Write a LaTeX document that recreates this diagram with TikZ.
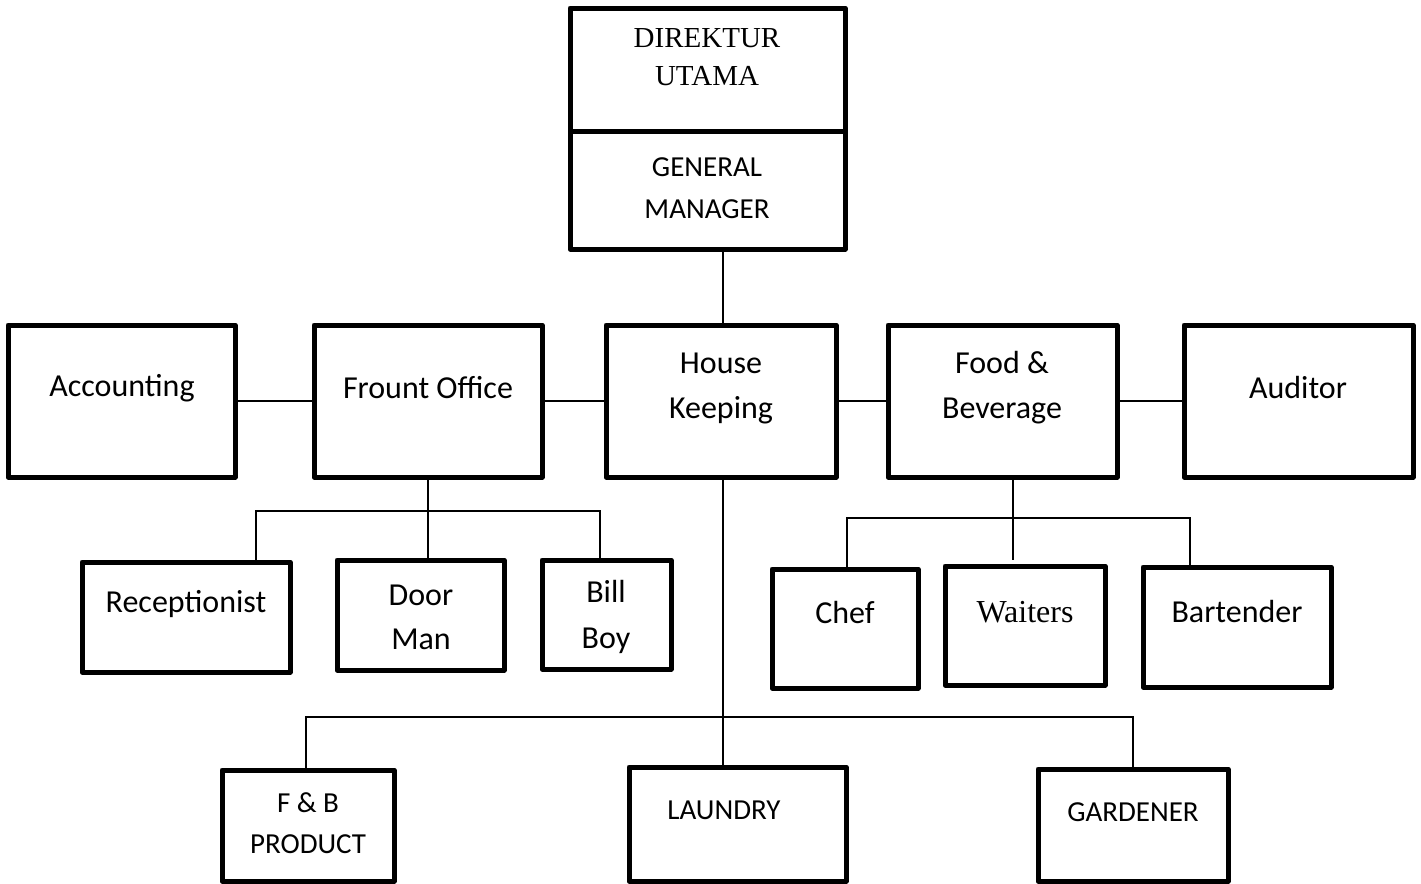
\documentclass[tikz,border=0pt]{standalone}
\usepackage{fontspec}
\setmainfont{Carlito}
\newfontfamily\tnr{Liberation Serif}
\usetikzlibrary{fit}
\begin{document}
\begin{tikzpicture}[x=0.5pt,y=-0.5pt,
  box/.style={draw,line width=2.5pt,line join=round,inner sep=0pt},
  conn/.style={line width=1pt},
  lbl/.style={inner sep=0pt,align=center,font=\fontsize{16}{22.5}\selectfont},
  lbls/.style={inner sep=0pt,align=center,font=\fontsize{14.5}{21}\selectfont}]
\fill[white] (0,0) rectangle (1421,884);
\clip (0,0) rectangle (1421,884);
% top
\node[box,fit={(570,8)(845,131)}] (dir) {};
\node[box,fit={(570,131)(845,249)}] (gm) {};
% level 2
\node[box,fit={(8,325)(235,477)}] (acc) {};
\node[box,fit={(314,325)(542,477)}] (fo) {};
\node[box,fit={(606,325)(836,477)}] (hk) {};
\node[box,fit={(888,325)(1117,477)}] (fb) {};
\node[box,fit={(1184,325)(1413,477)}] (aud) {};
% front office children
\node[box,fit={(82,562)(290,672)}] (rec) {};
\node[box,fit={(337,560)(504,670)}] (dm) {};
\node[box,fit={(542,560)(671,669)}] (bb) {};
% f&b children
\node[box,fit={(772,569)(918,688)}] (chef) {};
\node[box,fit={(945,566)(1105,685)}] (wait) {};
\node[box,fit={(1143,567)(1331,687)}] (bart) {};
% housekeeping children
\node[box,fit={(222,770)(394,881)}] (fbp) {};
\node[box,fit={(629,767)(846,881)}] (lau) {};
\node[box,fit={(1038,769)(1228,881)}] (gar) {};
% texts
\node[lbls,font=\tnr\fontsize{14.5}{19}\selectfont] (dirT) at (707,57) {DIREKTUR\\UTAMA};
\node[lbls] (gmT) at (707,188) {GENERAL\\MANAGER};
\node[lbl] (accT) at (122,388) {Accounting};
\node[lbl] (foT) at (428,388) {Frount Office};
\node[lbl] (hkT) at (721,388) {House\\Keeping};
\node[lbl] (fbT) at (1002,388) {Food \&\\Beverage};
\node[lbl] (audT) at (1298,388) {Auditor};
\node[lbl] (recT) at (186,604) {Receptionist};
\node[lbl,font=\fontsize{16}{22}\selectfont] (dmT) at (421,617) {Door\\Man};
\node[lbl,font=\fontsize{16}{23}\selectfont] (bbT) at (606,617) {Bill\\Boy};
\node[lbl] (chefT) at (845,612) {Chef};
\node[lbl,font=\tnr\fontsize{16}{20}\selectfont] (waitT) at (1025,612) {Waiters};
\node[lbl] (bartT) at (1237,612) {Bartender};
\node[lbls,font=\fontsize{14.5}{20.5}\selectfont] (fbpT) at (308,823) {F \& B\\PRODUCT};
\node[lbls] (lauT) at (724,810) {LAUNDRY};
\node[lbls] (garT) at (1133,812) {GARDENER};
% connectors
\draw[conn] (gm.south -| 723,0) -- (hk.north -| 723,0);
\draw[conn] (acc.east) -- (fo.west);
\draw[conn] (fo.east) -- (hk.west);
\draw[conn] (hk.east) -- (fb.west);
\draw[conn] (fb.east) -- (aud.west);
% front office tree
\coordinate (fo1) at (256,511);
\coordinate (fo2) at (600,511);
\draw[conn] (fo.south) -- (fo.south |- dm.north);
\draw[conn] (rec.north -| fo1) -- (fo1) -- (fo2) -- (bb.north -| fo2);
% f&b tree
\coordinate (fb0) at (1013,518);
\coordinate (fb1) at (847,518);
\coordinate (fb2) at (1190,518);
\draw[conn] (fb.south -| fb0) -- (1013,560);
\draw[conn] (chef.north -| fb1) -- (fb1) -- (fb2) -- (bart.north -| fb2);
% housekeeping tree
\coordinate (hk1) at (306,717);
\coordinate (hk2) at (1133,717);
\draw[conn] (hk.south -| 723,0) -- (lau.north -| 723,0);
\draw[conn] (fbp.north -| hk1) -- (hk1) -- (hk2) -- (gar.north -| hk2);
\end{tikzpicture}
\end{document}
